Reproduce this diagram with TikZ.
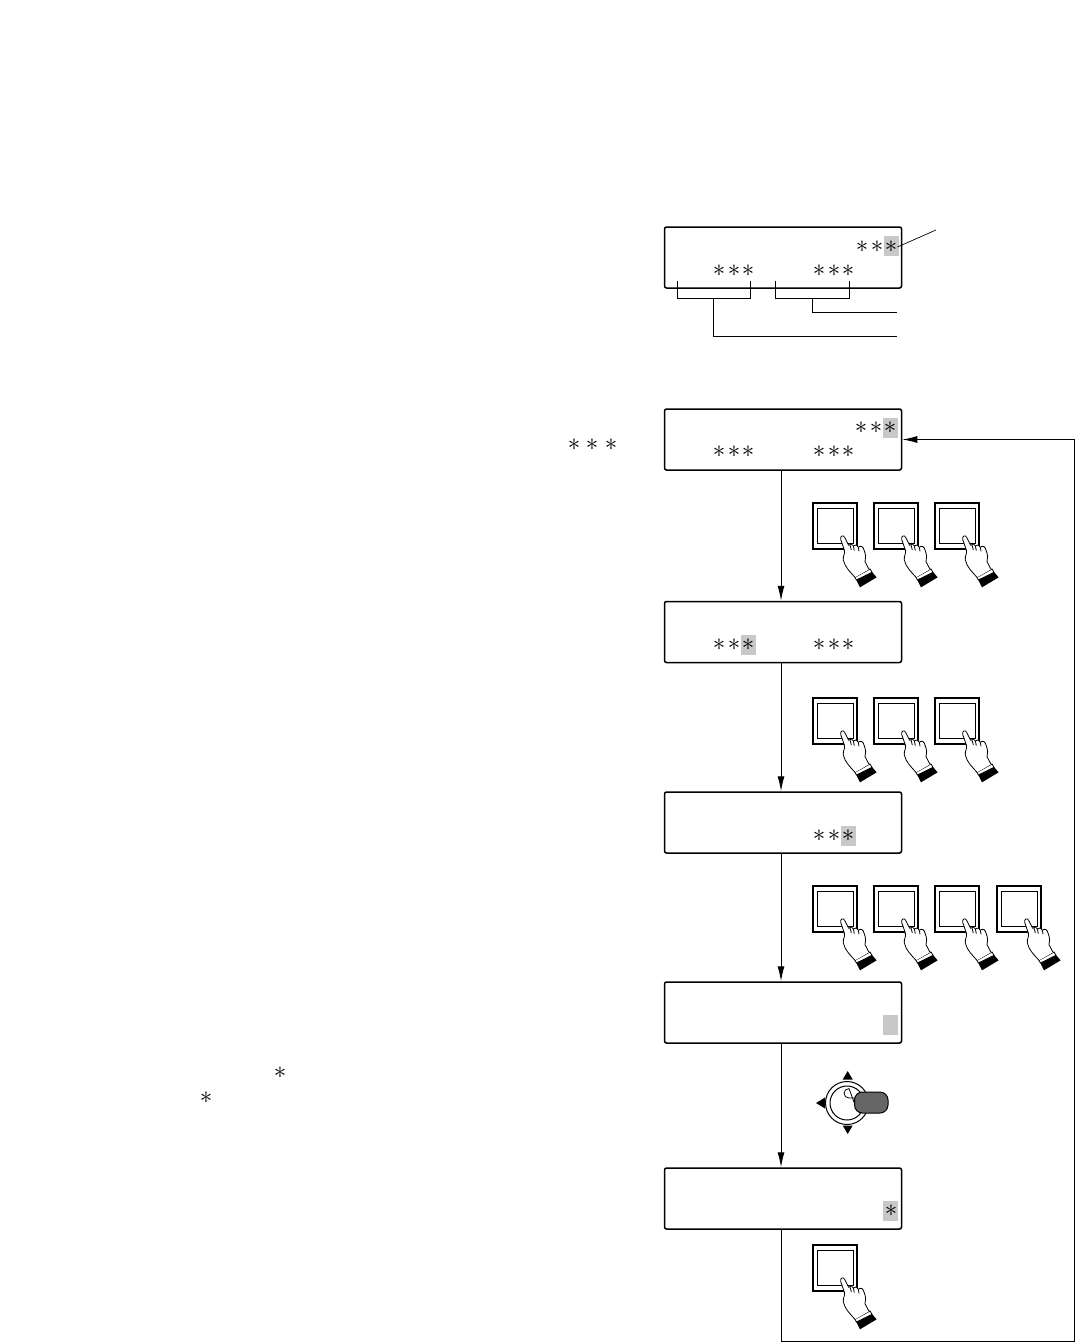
\documentclass[tikz,border=0pt]{standalone}
\usetikzlibrary{arrows.meta}
\definecolor{hl}{HTML}{C8C8C8}
\definecolor{lever}{HTML}{666666}
\tikzset{
  x=1pt,y=-1pt,
  lcd/.style={draw=black,line width=1.5pt,rounded corners=2pt,minimum width=237pt,minimum height=61pt,inner sep=0pt,fill=white},
  star/.style={inner sep=0pt,font=\fontsize{24.88}{25}\selectfont},
  hilite/.style={fill=hl,draw=none,minimum width=15pt,minimum height=20pt,inner sep=0pt},
  flow/.style={line width=1pt,-{Latex[length=15pt,width=7pt]}},
  wire/.style={line width=1pt},
  pics/pushbtn/.style={code={
    \draw[line width=2pt] (0,0) rectangle (44,46);
    \draw[line width=1pt] (4.5,5) rectangle (40,40.5);
    \begin{scope}[shift={(-13,-13)},x=0.3333pt,y=-0.3333pt]
      \fill[black] (168,268) -- (215,245) -- (230,262) -- (180,292) -- cycle;
      \draw[line width=.8pt,fill=white] (165,262) -- (210,237) -- (216,247) -- (169,270) -- cycle;
      \draw[line width=.8pt,fill=white,line join=round]
        (165,262) .. controls (150,245) and (135,232) .. (130,210)
        .. controls (128,195) and (136,195) .. (133,180)
        -- (122,148) .. controls (120,138) and (130,133) .. (134,142)
        -- (146,166) .. controls (150,160) and (158,160) .. (160,168)
        .. controls (165,162) and (173,164) .. (175,172)
        .. controls (182,165) and (190,170) .. (192,180)
        .. controls (198,195) and (198,205) .. (195,215)
        -- (207,238);
      \draw[line width=.8pt] (150,165) -- (154,180) (160,168) -- (163,182) (175,172) -- (177,184);
    \end{scope}
  }}
}
\begin{document}
\begin{tikzpicture}
\useasboundingbox (0,0) rectangle (1075,1343);
% displays
\node[lcd] (d0) at (783,257.5) {};
\node[lcd] (d1) at (783,439.5) {};
\node[lcd] (d2) at (783,632) {};
\node[lcd] (d3) at (783,822.5) {};
\node[lcd] (d4) at (783,1012.5) {};
\node[lcd] (d5) at (783,1198.5) {};
% highlights
\node[hilite] (h0) at (891,246) {};
\node[hilite] (h1) at (890.5,428) {};
\node[hilite] (h2) at (748,645) {};
\node[hilite] (h3) at (848,836) {};
\node[hilite] (h4) at (890.5,1025) {};
\node[hilite] (h5) at (890.5,1211) {};
% asterisks
\foreach \n/\px/\py in {a1/862/247,a2/877/247,a3/891/247,a4/719/271,a5/734/271,a6/748/271,a7/819/271,a8/834/271,a9/848/271,
  b1/861/428,b2/876/428,b3/890/428,b4/719/452,b5/734/452,b6/748/452,b7/819/452,b8/834/452,b9/848/452,
  c1/574/445,c2/592/445,c3/611/445,
  e4/719/645,e5/734/645,e6/748/645,e7/819/645,e8/834/645,e9/848/645,
  f7/819/836,f8/834/836,f9/848/836,
  g1/891/1211,k1/280/1073,k2/206/1098}
  \node[star] (\n) at (\px,\py) {$\ast$};
% callouts of the first display
\coordinate (lead) at (936,230);
\draw[line width=.7pt] (a3.east) -- (lead);
\coordinate (br1a) at (677,281); \coordinate (br1b) at (750,281);
\coordinate (br2a) at (775,281); \coordinate (br2b) at (849,281);
\coordinate (endA) at (897,312); \coordinate (endB) at (897,336);
\draw[wire] (br1a) |- (750,298) -- (br1b);
\draw[wire] (br2a) |- (849,298) -- (br2b);
\draw[wire] (812,298) |- (endA);
\draw[wire] (713,298) |- (endB);
% flow
\coordinate (ax) at (781,0);
\draw[flow] (d1.south -| ax) -- (d2.north -| ax);
\draw[flow] (d2.south -| ax) -- (d3.north -| ax);
\draw[flow] (d3.south -| ax) -- (d4.north -| ax);
\draw[flow] (d4.south -| ax) -- (d5.north -| ax);
\coordinate (rt) at (1074,1341);
\draw[flow] (d5.south -| ax) |- (rt) |- (d1.east);
% buttons
\foreach \bx in {813,874,935} \pic at (\bx,503) {pushbtn};
\foreach \bx in {813,874,935} \pic at (\bx,698) {pushbtn};
\foreach \bx in {813,874,935,997} \pic at (\bx,886) {pushbtn};
\pic at (813,1245) {pushbtn};
% joystick
\draw[line width=1pt] (847,1103) circle (21.5);
\draw[line width=1pt] (847,1103) circle (17);
\fill (847.7,1071) -- (842.7,1079.5) -- (852.7,1079.5) -- cycle;
\fill (816,1103) -- (825,1097.5) -- (825,1108.5) -- cycle;
\fill (847.7,1134) -- (842.7,1125.5) -- (852.7,1125.5) -- cycle;
\draw[line width=.8pt,fill=white] (856,1098) -- (849,1098) arc[start angle=90,end angle=270,x radius=5,y radius=4.7] -- (856,1107.4);
\draw[line width=1pt,fill=lever,rounded corners=8pt] (854.5,1092) rectangle (888,1113);
\end{tikzpicture}
\end{document}
